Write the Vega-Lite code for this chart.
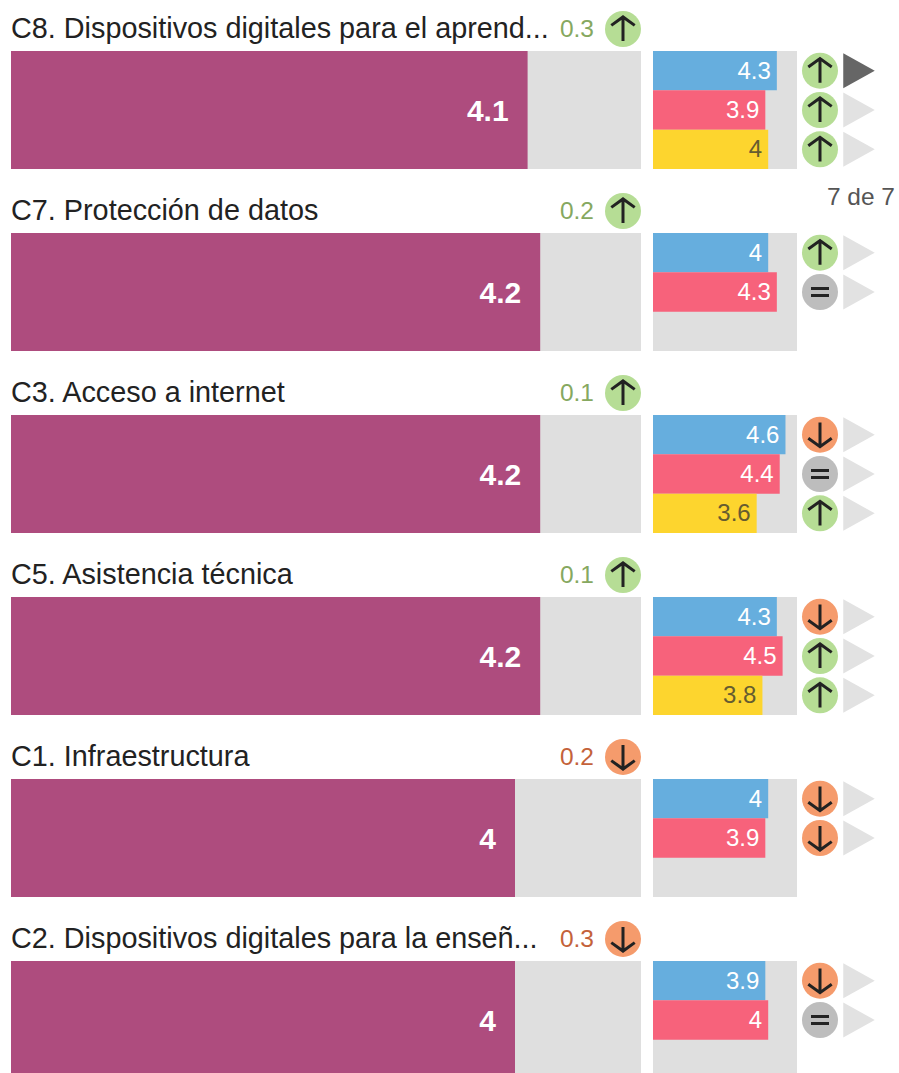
{
"$schema":"https://vega.github.io/schema/vega-lite/v6.json",
"width":899,"height":1073,"padding":0,"autosize":"none","background":"#ffffff",
"config":{"view":{"stroke":null},"font":"Liberation Sans","text":{"font":"Liberation Sans"}},
"datasets":{
"general":[
{"competencia":"C8","nombre":"C8. Dispositivos digitales para el aprend...","valor":4.1,"cambio":0.3,"tendencia":"sube"},
{"competencia":"C7","nombre":"C7. Protección de datos","valor":4.2,"cambio":0.2,"tendencia":"sube"},
{"competencia":"C3","nombre":"C3. Acceso a internet","valor":4.2,"cambio":0.1,"tendencia":"sube"},
{"competencia":"C5","nombre":"C5. Asistencia técnica","valor":4.2,"cambio":0.1,"tendencia":"sube"},
{"competencia":"C1","nombre":"C1. Infraestructura","valor":4,"cambio":0.2,"tendencia":"baja"},
{"competencia":"C2","nombre":"C2. Dispositivos digitales para la enseñ...","valor":4,"cambio":0.3,"tendencia":"baja"}],
"grupos":[
{"competencia":"C8","grupo":"Directivos","valor":4.3,"tendencia":"sube","activo":"si"},
{"competencia":"C8","grupo":"Docentes","valor":3.9,"tendencia":"sube","activo":"no"},
{"competencia":"C8","grupo":"Estudiantes","valor":4,"tendencia":"sube","activo":"no"},
{"competencia":"C7","grupo":"Directivos","valor":4,"tendencia":"sube","activo":"no"},
{"competencia":"C7","grupo":"Docentes","valor":4.3,"tendencia":"igual","activo":"no"},
{"competencia":"C3","grupo":"Directivos","valor":4.6,"tendencia":"baja","activo":"no"},
{"competencia":"C3","grupo":"Docentes","valor":4.4,"tendencia":"igual","activo":"no"},
{"competencia":"C3","grupo":"Estudiantes","valor":3.6,"tendencia":"sube","activo":"no"},
{"competencia":"C5","grupo":"Directivos","valor":4.3,"tendencia":"baja","activo":"no"},
{"competencia":"C5","grupo":"Docentes","valor":4.5,"tendencia":"sube","activo":"no"},
{"competencia":"C5","grupo":"Estudiantes","valor":3.8,"tendencia":"sube","activo":"no"},
{"competencia":"C1","grupo":"Directivos","valor":4,"tendencia":"baja","activo":"no"},
{"competencia":"C1","grupo":"Docentes","valor":3.9,"tendencia":"baja","activo":"no"},
{"competencia":"C2","grupo":"Directivos","valor":3.9,"tendencia":"baja","activo":"no"},
{"competencia":"C2","grupo":"Docentes","valor":4,"tendencia":"igual","activo":"no"}],
"pagina":[{"competencia":"C7","texto":"7 de 7"}]
},
"resolve":{"scale":{"x":"independent","fill":"independent","color":"independent","shape":"independent","stroke":"independent"}},
"layer":[
{"data":{"name":"general"},"mark":{"type":"bar","fill":"#dfdfdf"},
 "encoding":{"x":{"datum":5,"type":"quantitative","stack":null,"axis":null,"scale":{"domain":[0,5],"range":[11,641]}},
 "y":{"field":"competencia","type":"nominal","axis":null,"sort":null,"scale":{"domain":["C8","C7","C3","C5","C1","C2"],"range":[51,1079],"paddingInner":0.3516,"paddingOuter":0}}}},
{"data":{"name":"general"},"mark":{"type":"bar","fill":"#ae4c7e"},
 "encoding":{"x":{"field":"valor","type":"quantitative","stack":null,"axis":null,"scale":{"domain":[0,5],"range":[11,641]}},
 "y":{"field":"competencia","type":"nominal","axis":null}}},
{"data":{"name":"general"},"mark":{"type":"text","align":"right","baseline":"middle","dx":-19,"dy":2,"fontSize":30,"fontWeight":"bold","fill":"#ffffff"},
 "encoding":{"x":{"field":"valor","type":"quantitative","axis":null,"scale":{"domain":[0,5],"range":[11,641]}},
 "y":{"field":"competencia","type":"nominal","axis":null},"text":{"field":"valor","type":"nominal"}}},
{"data":{"name":"general"},"mark":{"type":"text","align":"left","baseline":"middle","fontSize":28.8,"fill":"#222222"},
 "encoding":{"x":{"datum":0,"type":"quantitative","axis":null,"scale":{"domain":[0,5],"range":[11,641]}},
 "y":{"field":"competencia","type":"nominal","axis":null,"bandPosition":0},"yOffset":{"value":-22},"text":{"field":"nombre"}}},
{"data":{"name":"general"},"mark":{"type":"text","align":"right","baseline":"middle","dy":1,"fontSize":24.5},
 "encoding":{"x":{"datum":"cambio","type":"nominal","axis":null,"scale":{"type":"point","domain":["cambio"],"range":[594,594]}},
 "y":{"field":"competencia","type":"nominal","axis":null,"bandPosition":0},"yOffset":{"value":-22},"text":{"field":"cambio","type":"nominal"},
 "color":{"field":"tendencia","type":"nominal","legend":null,"scale":{"domain":["sube","baja"],"range":["#86a860","#c4623a"]}}}},
{"data":{"name":"general"},"mark":{"type":"point","filled":true,"shape":"circle","size":1296,"opacity":1},
 "encoding":{"x":{"datum":"flecha","type":"nominal","axis":null,"scale":{"type":"point","domain":["flecha"],"range":[623,623]}},
 "y":{"field":"competencia","type":"nominal","axis":null,"bandPosition":0},"yOffset":{"value":-22},
 "fill":{"field":"tendencia","type":"nominal","legend":null,"scale":{"domain":["sube","baja","igual"],"range":["#b6dd95","#f59b6c","#bdbdbd"]}}}},
{"data":{"name":"general"},"mark":{"type":"point","filled":false,"size":1296,"opacity":1,"stroke":"#222222","strokeWidth":3},
 "encoding":{"x":{"datum":"flecha","type":"nominal","axis":null,"scale":{"type":"point","domain":["flecha"],"range":[623,623]}},
 "y":{"field":"competencia","type":"nominal","axis":null,"bandPosition":0},"yOffset":{"value":-22},
 "shape":{"field":"tendencia","type":"nominal","legend":null,"scale":{"domain":["sube","baja","igual"],"range":["M0,0.67L0,-0.67M-0.65,-0.2L0,-0.67L0.65,-0.2","M0,-0.67L0,0.67M-0.65,0.2L0,0.67L0.65,0.2","M-0.5,-0.2L0.5,-0.2M-0.5,0.2L0.5,0.2"]}}}},
{"data":{"name":"general"},"mark":{"type":"bar","fill":"#dfdfdf"},
 "encoding":{"x":{"datum":5,"type":"quantitative","stack":null,"axis":null,"scale":{"domain":[0,5],"range":[653,797]}},
 "y":{"field":"competencia","type":"nominal","axis":null}}},
{"data":{"name":"grupos"},"mark":{"type":"bar"},
 "encoding":{"x":{"field":"valor","type":"quantitative","stack":null,"axis":null,"scale":{"domain":[0,5],"range":[653,797]}},
 "y":{"field":"competencia","type":"nominal","axis":null},
 "yOffset":{"field":"grupo","type":"nominal","scale":{"domain":["Directivos","Docentes","Estudiantes"]}},
 "fill":{"field":"grupo","type":"nominal","legend":null,"scale":{"domain":["Directivos","Docentes","Estudiantes"],"range":["#66aede","#f7627b","#fdd52e"]}}}},
{"data":{"name":"grupos"},"mark":{"type":"text","align":"right","baseline":"middle","dx":-6,"dy":1,"fontSize":24},
 "encoding":{"x":{"field":"valor","type":"quantitative","axis":null,"scale":{"domain":[0,5],"range":[653,797]}},
 "y":{"field":"competencia","type":"nominal","axis":null},
 "yOffset":{"field":"grupo","type":"nominal","scale":{"domain":["Directivos","Docentes","Estudiantes"]}},
 "text":{"field":"valor","type":"nominal"},
 "color":{"field":"grupo","type":"nominal","legend":null,"scale":{"domain":["Directivos","Docentes","Estudiantes"],"range":["#ffffff","#ffffff","#665c30"]}}}},
{"data":{"name":"grupos"},"mark":{"type":"point","filled":true,"shape":"circle","size":1296,"opacity":1},
 "encoding":{"x":{"datum":"flecha","type":"nominal","axis":null,"scale":{"type":"point","domain":["flecha"],"range":[820,820]}},
 "y":{"field":"competencia","type":"nominal","axis":null},
 "yOffset":{"field":"grupo","type":"nominal","scale":{"domain":["Directivos","Docentes","Estudiantes"]}},
 "fill":{"field":"tendencia","type":"nominal","legend":null,"scale":{"domain":["sube","baja","igual"],"range":["#b6dd95","#f59b6c","#bdbdbd"]}}}},
{"data":{"name":"grupos"},"mark":{"type":"point","filled":false,"size":1296,"opacity":1,"stroke":"#222222","strokeWidth":3},
 "encoding":{"x":{"datum":"flecha","type":"nominal","axis":null,"scale":{"type":"point","domain":["flecha"],"range":[820,820]}},
 "y":{"field":"competencia","type":"nominal","axis":null},
 "yOffset":{"field":"grupo","type":"nominal","scale":{"domain":["Directivos","Docentes","Estudiantes"]}},
 "shape":{"field":"tendencia","type":"nominal","legend":null,"scale":{"domain":["sube","baja","igual"],"range":["M0,0.67L0,-0.67M-0.65,-0.2L0,-0.67L0.65,-0.2","M0,-0.67L0,0.67M-0.65,0.2L0,0.67L0.65,0.2","M-0.5,-0.2L0.5,-0.2M-0.5,0.2L0.5,0.2"]}}}},
{"data":{"name":"grupos"},"mark":{"type":"point","filled":true,"size":1225,"shape":"M-0.9,-1L0.9,0L-0.9,1Z","opacity":1},
 "encoding":{"x":{"datum":"marcador","type":"nominal","axis":null,"scale":{"type":"point","domain":["marcador"],"range":[859,859]}},
 "y":{"field":"competencia","type":"nominal","axis":null},
 "yOffset":{"field":"grupo","type":"nominal","scale":{"domain":["Directivos","Docentes","Estudiantes"]}},
 "fill":{"field":"activo","type":"nominal","legend":null,"scale":{"domain":["si","no"],"range":["#666666","#e2e2e2"]}}}},
{"data":{"name":"pagina"},"mark":{"type":"text","align":"right","baseline":"middle","fontSize":24.5,"fill":"#555555"},
 "encoding":{"x":{"datum":"pagina","type":"nominal","axis":null,"scale":{"type":"point","domain":["pagina"],"range":[895,895]}},
 "y":{"field":"competencia","type":"nominal","axis":null,"bandPosition":0},"yOffset":{"value":-35},"text":{"field":"texto"}}}
]
}
